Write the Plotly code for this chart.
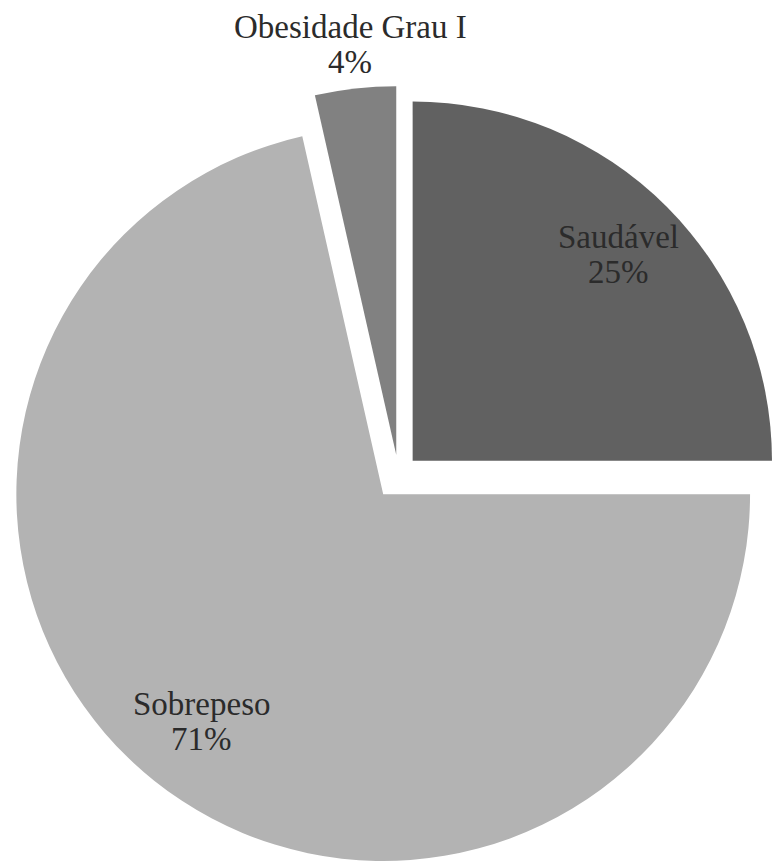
import math
import plotly.graph_objects as go

# ---- data ----
labels = ["Saudável", "Sobrepeso", "Obesidade Grau I"]
values = [25.0, 71.46, 3.54]

# ---- style ----
colors = ["#616161", "#b3b3b3", "#818181"]
explode_px = [20.0, 24.5, 20.0]      # how far each slice is pulled out
label_radius = [0.79, 0.79, 1.12]    # label distance along the slice mid-angle (x radius)
text_color = "#2b2b2b"
font_family = "Liberation Serif"
font_size = 33
line_gap = 35.0                      # px between the two label lines

W, H = 772, 861
CX, CY = 398.5, 475.0   # centre of the un-exploded pie (px)
R = 369.0               # pie radius (px)

total = sum(values)
fig = go.Figure()
annotations = []
start = 0.0
for i, (lab, val) in enumerate(zip(labels, values)):
    span = 360.0 * val / total
    mid = math.radians(start + span / 2.0)
    dx, dy = math.sin(mid), -math.cos(mid)
    sx = CX + explode_px[i] * dx
    sy = CY + explode_px[i] * dy
    r = min(R, sx, W - sx, sy, H - sy) - 0.01
    slice_colors = [c if j == i else "rgba(0,0,0,0)" for j, c in enumerate(colors)]
    x0 = max(0.0, (sx - r) / W)
    x1 = min(1.0, (sx + r) / W)
    y0 = max(0.0, 1.0 - (sy + r) / H)
    y1 = min(1.0, 1.0 - (sy - r) / H)
    fig.add_trace(
        go.Pie(
            labels=labels,
            values=values,
            sort=False,
            direction="clockwise",
            rotation=0,
            marker=dict(colors=slice_colors, line=dict(width=0)),
            textinfo="none",
            domain=dict(x=[x0, x1], y=[y0, y1]),
            hoverinfo="label+percent",
            showlegend=False,
        )
    )
    lx = sx + label_radius[i] * R * dx
    ly = sy + label_radius[i] * R * dy
    pct = round(100.0 * val / total)
    for k, line in enumerate([lab, f"{pct}%"]):
        yy = ly + (k - 0.5) * line_gap
        annotations.append(
            dict(
                text=line,
                x=lx / W,
                y=1.0 - yy / H,
                xref="paper",
                yref="paper",
                xanchor="center",
                yanchor="middle",
                showarrow=False,
                font=dict(family=font_family, size=font_size, color=text_color),
            )
        )
    start += span

fig.update_layout(
    width=W,
    height=H,
    autosize=False,
    margin=dict(l=0, r=0, t=0, b=0, pad=0, autoexpand=False),
    paper_bgcolor="white",
    plot_bgcolor="white",
    annotations=annotations,
)

fig.write_html("out.html")
